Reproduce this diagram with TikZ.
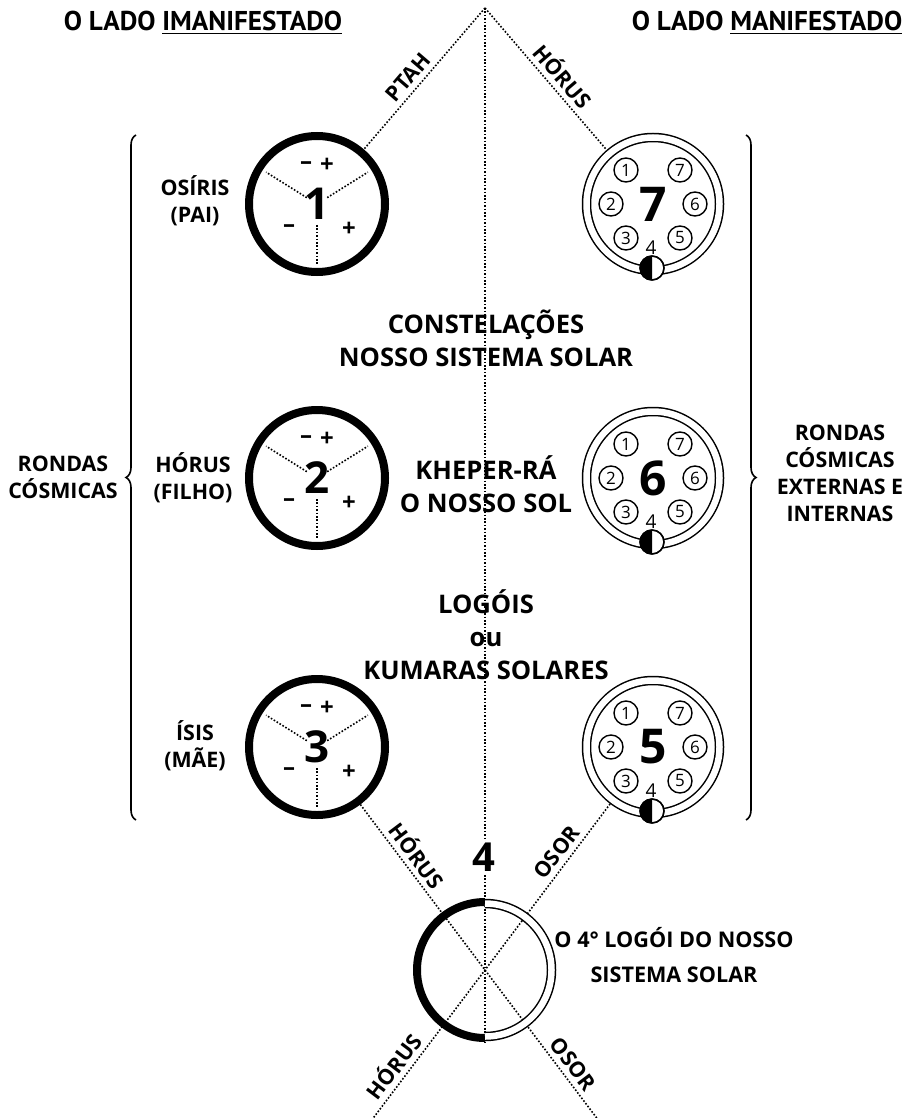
\documentclass[tikz,border=0pt]{standalone}
\usepackage{fontspec}
\setmainfont{Open Sans}
\newfontfamily\cond{PT Sans}
\usetikzlibrary{decorations.pathreplacing}

\tikzset{
  txt/.style={font=\bfseries\fontsize{10.7}{13.5}\selectfont, align=center, inner sep=1pt},
  mid/.style={font=\bfseries\fontsize{12.8}{16.5}\selectfont, align=center, inner sep=1pt},
  dotline/.style={line width=0.8pt, dash pattern=on 0.8pt off 0.9pt},
  solidc/.style={circle, draw, line width=4pt, minimum size=68pt, inner sep=0pt,
    font=\bfseries\fontsize{22}{22}\selectfont},
  ring/.style={circle, draw, line width=0.75pt, double, double distance=3.25pt,
    minimum size=66.5pt, inner sep=0pt, outer sep=2.4pt, font=\bfseries\fontsize{24}{24}\selectfont},
  circlet/.style={circle, draw, line width=0.7pt, minimum size=12pt, inner sep=0pt,
    font=\fontsize{8.5}{8.5}\selectfont},
  sign/.style={inner sep=0pt, font=\bfseries\fontsize{12}{12}\selectfont},
}

\begin{document}
\begin{tikzpicture}[x=0.5pt, y=-0.5pt]
    \useasboundingbox (0,0) rectangle (916,1118);

    \coordinate (apex) at (485,8);
    \coordinate (bl) at (368,1125);
    \coordinate (br) at (602,1125);

    % o lado imanifestado
    \node[solidc] (c1) at (317,204) {1};
    \node[solidc] (c2) at (317,478) {2};
    \node[solidc] (c3) at (317,747) {3};
    % o lado manifestado
    \node[ring] (c7) at (653,204) {7};
    \node[ring] (c6) at (653,478) {6};
    \node[ring] (c5) at (653,747) {5};
    % o 4o logoi
    \node[circle, minimum size=72pt, inner sep=0pt, outer sep=0pt] (c4) at (485,970) {};

    \draw[dotline] (apex) -- (c4.south);
    \draw[dotline] (apex) -- node[pos=.55, sloped, above=1.5pt, txt] (ptah) {PTAH} (c1);
    \draw[dotline] (apex) -- node[pos=.55, sloped, above=1.5pt, txt] (horus1) {HÓRUS} (c7);
    \draw[dotline] (c3) -- node[pos=.36, sloped, above=1.5pt, txt] (horus2) {HÓRUS} (c4.center)
        -- node[pos=.66, sloped, above=1.5pt, txt] (osor2) {OSOR} (br);
    \draw[dotline] (c5) -- node[pos=.34, sloped, above=1.5pt, txt] (osor1) {OSOR} (c4.center)
        -- node[pos=.68, sloped, above=1.5pt, txt] (horus3) {HÓRUS} (bl);

    \draw[line width=4pt] ([shift={(90:34pt)}]c4.center) arc (90:270:34pt);
    \draw[line width=0.75pt, double, double distance=3.25pt]
        ([shift={(-90:33.25pt)}]c4.center) arc (-90:90:33.25pt);

    \foreach \c in {c1,c2,c3} {
        \draw[dotline] ([shift={(148:6pt)}]\c.center) -- ([shift={(148:30pt)}]\c.center);
        \draw[dotline] ([shift={(32:6pt)}]\c.center) -- ([shift={(32:30pt)}]\c.center);
        \draw[dotline] ([shift={(270:10.5pt)}]\c.center) -- ([shift={(270:30pt)}]\c.center);
        \node[sign] (\c-m1) at ([shift={(-11,-38)}]\c.center) {–};
        \node[sign] (\c-p1) at ([shift={(10,-39)}]\c.center) {+};
        \node[sign] (\c-m2) at ([shift={(-28,25)}]\c.center) {–};
        \node[sign] (\c-p2) at ([shift={(32,25)}]\c.center) {+};
    }

    \foreach \r in {c7,c6,c5} {
        \foreach \k/\a/\b in {1/-27/-34, 7/27/-34, 2/-42/0, 6/42/0, 3/-27/34, 5/27/34}
            \node[circlet] (\r-\k) at ([shift={(\a,\b)}]\r.center) {\k};
        \node[inner sep=0pt, font=\fontsize{9.5}{9.5}\selectfont] (\r-4) at ([shift={(-2,44)}]\r.center) {4};
        \coordinate (\r-h) at ([shift={(-1,64)}]\r.center);
        \filldraw[fill=white, line width=0.7pt] (\r-h) circle (6pt);
        \fill (\r-h) ++(0,6pt) arc (90:270:6pt) -- cycle;
        \draw[line width=0.7pt] (\r-h) circle (6pt);
    }

    \draw[decorate, decoration={brace, amplitude=5pt}, line width=0.8pt] (136,820) -- (136,135);
    \draw[decorate, decoration={brace, amplitude=5pt}, line width=0.8pt] (746,135) -- (746,820);

    \node[font=\cond\bfseries\fontsize{13.6}{13.6}\selectfont, inner sep=0pt] (tleft) at (203,23) {O LADO \underline{IMANIFESTADO}};
    \node[font=\cond\bfseries\fontsize{13.6}{13.6}\selectfont, inner sep=0pt] (tright) at (767,23) {O LADO \underline{MANIFESTADO}};

    \node[txt] (osiris) at (195,201) {OSÍRIS\\(PAI)};
    \node[txt] (horus) at (193,478) {HÓRUS\\(FILHO)};
    \node[txt] (isis) at (195,746) {ÍSIS\\(MÃE)};
    \node[txt] (rondas1) at (63,477) {RONDAS\\CÓSMICAS};
    \node[txt] (rondas2) at (840,473) {RONDAS\\CÓSMICAS\\EXTERNAS E\\INTERNAS};

    \node[mid] (const) at (486,338) {CONSTELAÇÕES\\NOSSO SISTEMA SOLAR};
    \node[mid] (kheper) at (486,484) {KHEPER-RÁ\\O NOSSO SOL};
    \node[mid] (logois) at (486,635) {LOGÓIS\\ou\\KUMARAS SOLARES};
    \node[fill=white, inner sep=1pt, font=\bfseries\fontsize{20}{20}\selectfont] (four) at (484,857) {4};
    \node[mid, font=\bfseries\fontsize{10.8}{17.5}\selectfont] (logoi) at (674,955) {O 4° LOGÓI DO NOSSO\\SISTEMA SOLAR};
\end{tikzpicture}
\end{document}
